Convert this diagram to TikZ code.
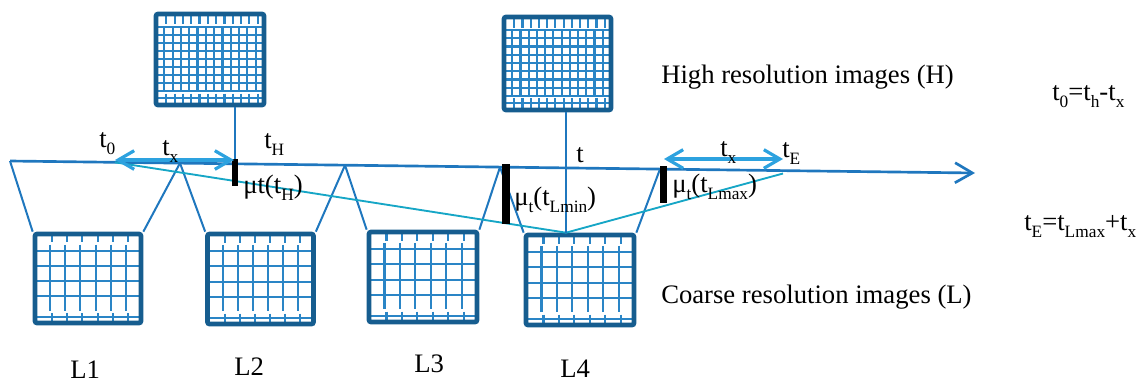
\documentclass[tikz,border=0pt]{standalone}
\usepackage{fontspec}
\setmainfont{Liberation Serif}
\usetikzlibrary{arrows.meta,calc}
\definecolor{frameC}{HTML}{165D8F}
\definecolor{gridC}{HTML}{2A85C6}
\definecolor{lineC}{HTML}{1F77BE}
\definecolor{arrowC}{HTML}{2DA2DF}
\definecolor{cyanC}{HTML}{16A6C6}
\newcommand{\sbs}[1]{\raisebox{-0.28em}{\fontsize{13}{13}\selectfont #1}}
% nv, nh, h0, h1, v0, v1
\newcommand{\gridlines}[6]{%
  \path (path picture bounding box.north west) coordinate (gnw)
        (path picture bounding box.south east) coordinate (gse);
  \foreach \k in {1,...,#1}{
    \draw[gridline] let \p1=(gnw), \p2=(gse) in
      ({\x1+(\x2-\x1)*\k/(#1+1)}, {\y1+(\y2-\y1)*#5}) -- ({\x1+(\x2-\x1)*\k/(#1+1)}, {\y1+(\y2-\y1)*#6});
    \draw[gridline] let \p1=(gnw), \p2=(gse) in
      ({\x1+(\x2-\x1)*\k/(#1+1)+1.5pt}, {\y1}) -- ({\x1+(\x2-\x1)*\k/(#1+1)+1.5pt}, {\y1+(\y2-\y1)*(#5-0.025)});
    \draw[gridline] let \p1=(gnw), \p2=(gse) in
      ({\x1+(\x2-\x1)*\k/(#1+1)+1.5pt}, {\y1+(\y2-\y1)*(#6+0.025)}) -- ({\x1+(\x2-\x1)*\k/(#1+1)+1.5pt}, {\y2});
  }
  \foreach \j in {1,...,#2}{
    \draw[gridline] let \p1=(gnw), \p2=(gse) in
      ({\x1}, {\y1+(\y2-\y1)*(#3+(#4-#3)*(\j-1)/(#2-1))}) -- ({\x2}, {\y1+(\y2-\y1)*(#3+(#4-#3)*(\j-1)/(#2-1))});
  }
  \draw[gridline] let \p1=(gnw), \p2=(gse) in
    ({\x1}, {\y1+(\y2-\y1)*(#6+0.07)}) -- ({\x2}, {\y1+(\y2-\y1)*(#6+0.07)});
}
\begin{document}
\begin{tikzpicture}[x=0.75pt,y=-0.75pt,
  gridline/.style={draw=gridC, line width=1.6pt},
  framebox/.style={draw=frameC, line width=3.5pt, rounded corners=1.5pt, rectangle, inner sep=0pt},
  lbox/.style={framebox, path picture={\gridlines{6}{4}{0.19}{0.70}{0.12}{0.86}}},
  hbox/.style={framebox, path picture={\gridlines{12}{9}{0.14}{0.85}{0.14}{0.85}}},
  timeline/.style={draw=lineC, line width=2pt},
  funnel/.style={draw=lineC, line width=1.5pt},
  conn/.style={draw=lineC, line width=1.8pt},
  cyanline/.style={draw=cyanC, line width=1.4pt},
  dbl/.style={draw=arrowC, line width=2.4pt, {Straight Barb[length=12pt,width=14pt]}-{Straight Barb[length=12pt,width=14pt]}},
  bar/.style={fill=black, draw=none, rectangle, inner sep=0pt},
  lbl/.style={font=\fontsize{20}{24}\selectfont, inner sep=0pt, anchor=base west}
]
\useasboundingbox (0,0) rectangle (1141,383);

% image boxes
\node[hbox, minimum width=81pt, minimum height=68.25pt] (H1) at (210,59.5) {};
\node[hbox, minimum width=80.25pt, minimum height=69.75pt] (H2) at (557.5,63.5) {};
\node[lbox, minimum width=79.5pt, minimum height=66.75pt] (L1) at (88,278.5) {};
\node[lbox, minimum width=79.5pt, minimum height=67.5pt] (L2) at (260.5,279) {};
\node[lbox, minimum width=81pt, minimum height=67.5pt] (L3) at (423,277) {};
\node[lbox, minimum width=81pt, minimum height=67.5pt] (L4) at (580,280) {};

% timeline coordinates
\coordinate (tl0) at (10,161);
\coordinate (tlEnd) at (975,173);
\coordinate (f1) at (180,163.1);
\coordinate (f2) at (345,165.2);
\coordinate (f3) at (500,167.1);
\coordinate (f4) at (660,169.1);
\coordinate (tmid) at (566,167.9);
\coordinate (t0pt) at (115,162.3);
\coordinate (tEpt) at (783,173.5);
\coordinate (ax1) at (115,160);
\coordinate (ax2) at (234,160);
\coordinate (ax3) at (664,159);
\coordinate (ax4) at (783,159);

% funnels
\draw[funnel] (tl0) -- (L1.north west);
\draw[funnel] (f1) -- (L1.north east);
\draw[funnel] (f1) -- (L2.north west);
\draw[funnel] (f2) -- (L2.north east);
\draw[funnel] (f2) -- (L3.north west);
\draw[funnel] (f3) -- (L3.north east);
\draw[funnel] (f3) -- (L4.north west);
\draw[funnel] (f4) -- (L4.north east);

% timeline
\draw[timeline, -{Straight Barb[length=13pt,width=15pt]}] (tl0) -- (tlEnd);

% cyan lines
\draw[cyanline] (t0pt) -- (tmid |- L4.north) -- (tEpt);

% bars
\node[bar, minimum width=4.5pt, minimum height=20.25pt] (bar1) at (235,172.5) {};
\node[bar, minimum width=6pt, minimum height=45pt] (bar2) at (506,194) {};
\node[bar, minimum width=5.25pt, minimum height=27.75pt] (bar3) at (663.5,184.5) {};

% vertical connectors
\draw[conn] (bar1 |- H1.south) -- (bar1.north);
\draw[conn] (tmid |- H2.south) -- (tmid |- L4.north);

% double arrows
\draw[dbl] (ax1) -- (ax2);
\draw[dbl] (ax3) -- (ax4);

% labels
\node[lbl] (lt0) at (99,147) {t\sbs{0}};
\node[lbl] (ltx1) at (162,155) {t\sbs{x}};
\node[lbl] (ltH) at (264,148) {t\sbs{H}};
\node[lbl] (lmuH) at (243,193) {μt(t\sbs{H})};
\node[lbl] (lt) at (576,162) {t};
\node[lbl] (lmin) at (514,205) {μ\sbs{t}(t\sbs{Lmin})};
\node[lbl] (lmax) at (672,192) {μ\sbs{t}(t\sbs{Lmax})};
\node[lbl] (ltx2) at (720,156) {t\sbs{x}};
\node[lbl] (ltE) at (782,157) {t\sbs{E}};
\node[lbl] (lhigh) at (661,83) {High resolution images (H)};
\node[lbl] (lcoarse) at (661,303) {Coarse resolution images (L)};
\node[lbl] (leq1) at (1052,100) {t\sbs{0}=t\sbs{h}-t\sbs{x}};
\node[lbl] (leq2) at (1024,230) {t\sbs{E}=t\sbs{Lmax}+t\sbs{x}};
\node[lbl] (lL1) at (70,378) {L1};
\node[lbl] (lL2) at (234,375) {L2};
\node[lbl] (lL3) at (414,372) {L3};
\node[lbl] (lL4) at (560,377) {L4};
\end{tikzpicture}
\end{document}
